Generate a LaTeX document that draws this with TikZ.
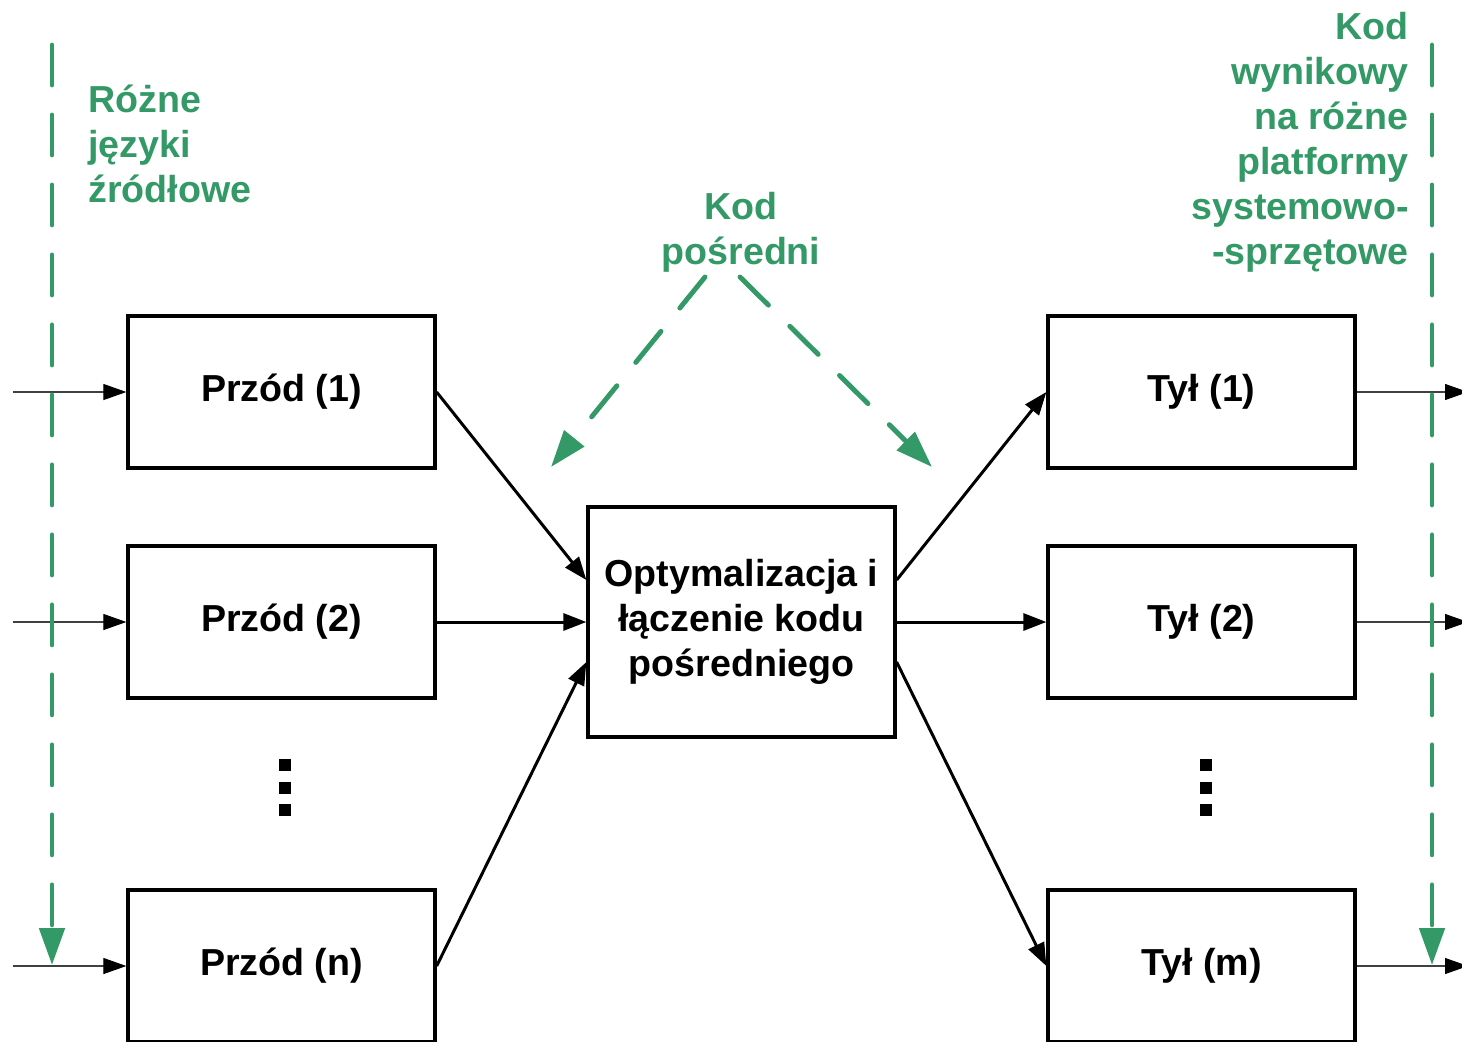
\documentclass[tikz,border=0pt]{standalone}
\usepackage{fontspec}
\setmainfont{Liberation Sans}
\usepackage{xcolor}
\usetikzlibrary{arrows.meta}
\definecolor{zielony}{HTML}{339966}
\newcommand{\tekst}{\fontsize{21.4}{25.6}\selectfont\bfseries}

\begin{document}
\begin{tikzpicture}[x=0.02cm, y=-0.02cm,
    blok/.style={draw, line width=1.9pt, minimum width=6.14cm, minimum height=3.04cm, font=\tekst},
    opis/.style={text=zielony, inner sep=0pt, font=\tekst},
    wej/.style={draw=black!75, line width=0.6pt, -{Triangle[length=0.46cm, width=0.32cm, color=black]}},
    pol/.style={line width=1.7pt, -{Triangle[length=0.46cm, width=0.34cm]}},
    kreska/.style={zielony, line width=2.8pt, line cap=round, dash pattern=on 0.8cm off 0.6cm,
        -{Triangle[length=0.74cm, width=0.5cm]}}]
    \useasboundingbox (0,0) rectangle (1462,1041);
    \clip (0,0) rectangle (1462,1041);

    \node [blok] (przod1) at (281.5,392) {Przód (1)};
    \node [blok] (przod2) at (281.5,622) {Przód (2)};
    \node [blok] (przodn) at (281.5,966) {Przód (n)};
    \node [blok, minimum height=4.6cm, align=center] (opt) at (741.5,622) {Optymalizacja i\\łączenie kodu\\pośredniego};
    \node [blok] (tyl1) at (1201.5,392) {Tył (1)};
    \node [blok] (tyl2) at (1201.5,622) {Tył (2)};
    \node [blok] (tylm) at (1201.5,966) {Tył (m)};

    \node [opis, anchor=west, align=left] (zrodla) at (88,144) {Różne\\języki\\źródłowe};
    \node [opis, align=center] (posredni) at (741,232) {Kod\\pośredni};
    \node [opis, anchor=east, align=right] (wynik) at (1409,142) {Kod\\wynikowy\\na różne\\platformy\\systemowo-\\-sprzętowe};

    \coordinate (wej1) at (13,392);
    \coordinate (wej2) at (13,622);
    \coordinate (wejn) at (13,966);
    \coordinate (wyj1) at (1468,392);
    \coordinate (wyj2) at (1468,622);
    \coordinate (wyjm) at (1468,966);

    \draw [wej] (wej1) -- (przod1);
    \draw [wej] (wej2) -- (przod2);
    \draw [wej] (wejn) -- (przodn);
    \draw [wej] (tyl1) -- (wyj1);
    \draw [wej] (tyl2) -- (wyj2);
    \draw [wej] (tylm) -- (wyjm);

    \draw [pol] (przod1.east) -- ([yshift=0.84cm]opt.west);
    \draw [pol] (przod2) -- (opt);
    \draw [pol] (przodn.east) -- ([yshift=-0.8cm]opt.west);
    \draw [pol] ([yshift=0.84cm]opt.east) -- (tyl1.west);
    \draw [pol] (opt) -- (tyl2);
    \draw [pol] ([yshift=-0.8cm]opt.east) -- (tylm.west);

    \coordinate (lewy1) at (52,45);
    \coordinate (lewy2) at (52,965);
    \coordinate (prawy1) at (1432,45);
    \coordinate (prawy2) at (1432,965);
    \coordinate (sr1) at (705,277);
    \coordinate (sr2) at (551,467);
    \coordinate (sr3) at (740,277);
    \coordinate (sr4) at (932,467);

    \draw [kreska] (lewy1) -- (lewy2);
    \draw [kreska] (prawy1) -- (prawy2);
    \draw [kreska] (sr1) -- (sr2);
    \draw [kreska] (sr3) -- (sr4);

    \foreach \y in {765,787.5,810} {
        \fill (285,\y) +(-6,-6) rectangle +(6,6);
        \fill (1206,\y) +(-6,-6) rectangle +(6,6);
    }
\end{tikzpicture}
\end{document}
